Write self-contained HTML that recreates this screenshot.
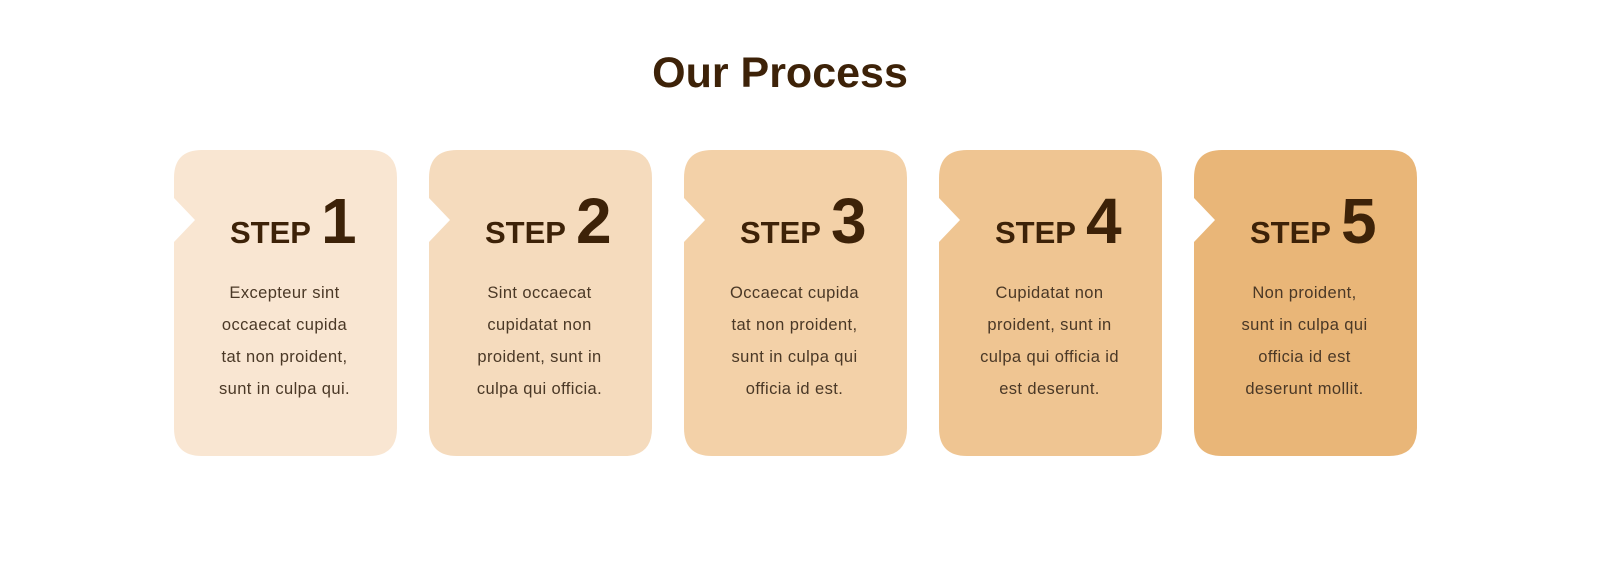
<!DOCTYPE html>
<html><head><meta charset="utf-8"><style>
body{margin:0;width:1600px;height:568px;background:#fff;overflow:hidden;font-family:"Liberation Sans",sans-serif;}
svg{position:absolute;left:0;top:0}
</style></head><body>
<svg width="1600" height="568">
<text x="780" y="87" text-anchor="middle" font-family="Liberation Sans" font-weight="bold" font-size="43" fill="#3d2208">Our Process</text>
<g id="cards"></g>
</svg>
<script>
const steps=["1","2","3","4","5"];
const colors=["#f9e6d2","#f5dbbd","#f3d1a8","#efc592","#e9b678"];
const texts=[["Excepteur sint","occaecat cupida","tat non proident,","sunt in culpa qui."],
["Sint occaecat","cupidatat non","proident, sunt in","culpa qui officia."],
["Occaecat cupida","tat non proident,","sunt in culpa qui","officia id est."],
["Cupidatat non","proident, sunt in","culpa qui officia id","est deserunt."],
["Non proident,","sunt in culpa qui","officia id est","deserunt mollit."]];
const NS="http://www.w3.org/2000/svg";
const g=document.getElementById('cards');
steps.forEach((s,i)=>{
 const x=174+i*255,y=150,w=223,h=306,r=28;
 const grp=document.createElementNS(NS,'g');
 
 
 const p=document.createElementNS(NS,'path');
 p.setAttribute('d',`M${x+r},${y} H${x+w-r} Q${x+w},${y} ${x+w},${y+r} V${y+h-r} Q${x+w},${y+h} ${x+w-r},${y+h} H${x+r} Q${x},${y+h} ${x},${y+h-r} V${y+92} L${x+21},${y+70} L${x},${y+48} V${y+r} Q${x},${y} ${x+r},${y} Z`);
 p.setAttribute('fill',colors[i]);
 grp.appendChild(p);
 const t=document.createElementNS(NS,'text');
 t.setAttribute('x',x+56);t.setAttribute('y',y+93);
 t.setAttribute('font-family','Liberation Sans');t.setAttribute('font-weight','bold');t.setAttribute('fill','#3d2208');
 
 
 t.innerHTML=`<tspan font-size="31">STEP</tspan><tspan dx="10" font-size="64">${s}</tspan>`;
 grp.appendChild(t);
 texts[i].forEach((line,j)=>{
  const b=document.createElementNS(NS,'text');
  b.setAttribute('x',x+w/2-1);b.setAttribute('y',y+148+j*32);
  b.setAttribute('text-anchor','middle');b.setAttribute('font-size','16.5');b.setAttribute('fill','#4a3826');
  b.setAttribute('font-family','Liberation Sans');b.setAttribute('letter-spacing','0.4');
  
  
  b.textContent=line;grp.appendChild(b);
 });
 g.appendChild(grp);
});
</script>
</body></html>
